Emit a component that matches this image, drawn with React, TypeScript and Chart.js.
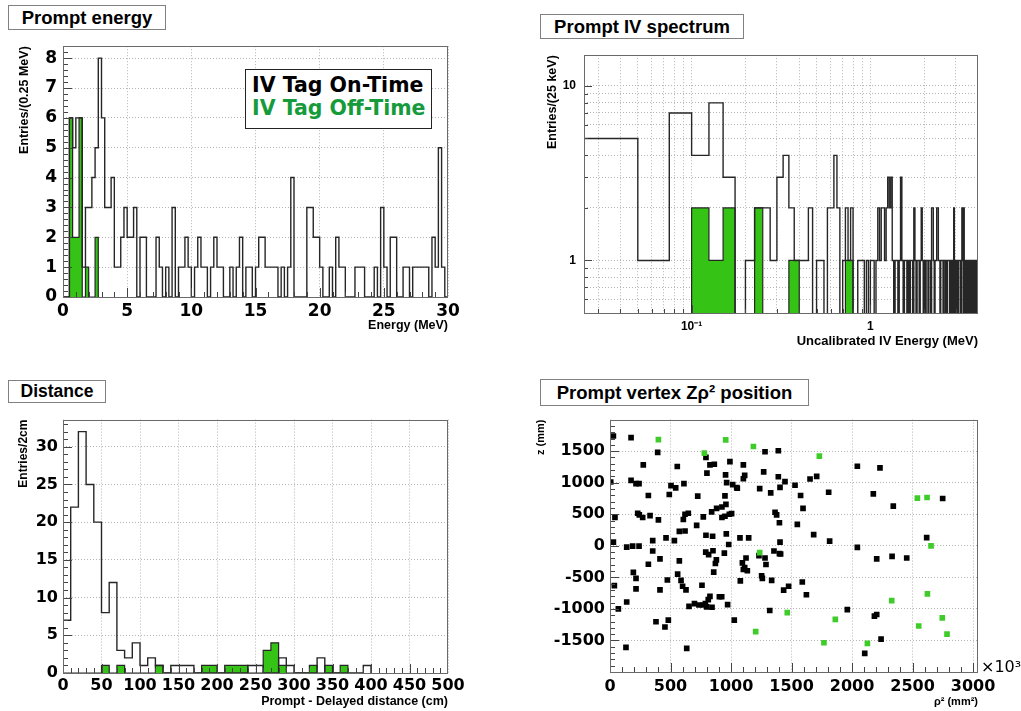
import React, { useEffect, useRef } from 'react';
import { Chart, registerables } from 'chart.js';

Chart.register(...registerables);

// ---------------- DATA ----------------
// Prompt energy, 0.25 MeV bins from 0 to 30 MeV
const energyBinStart = 0;
const energyBinWidth = 0.25;
const energyOnTime = [
  0, 0, 6, 5, 6, 6, 1, 3, 3, 4,
  5, 8, 6, 3, 3, 4, 1, 1, 2, 3,
  2, 2, 3, 0, 2, 2, 0, 0, 0, 2,
  1, 0, 1, 0, 3, 0, 1, 1, 2, 1,
  0, 1, 2, 1, 1, 0, 1, 2, 1, 1,
  0, 0, 1, 0, 1, 2, 0, 1, 1, 0,
  1, 2, 2, 1, 1, 1, 1, 0, 1, 0,
  1, 4, 0, 0, 0, 0, 3, 3, 2, 2,
  1, 0, 0, 1, 0, 2, 1, 1, 0, 0,
  0, 1, 1, 1, 0, 0, 0, 1, 0, 3,
  1, 0, 2, 2, 0, 0, 1, 1, 0, 1,
  1, 1, 1, 1, 0, 2, 1, 5, 1, 0,
];
const energyOffTime = [0, 0, 6, 2, 2, 6, 0, 1, 0, 0, 2];

// Prompt IV spectrum, 25 keV bins starting at 0.025 MeV
const ivBinStart = 0.025;
const ivBinWidth = 0.025;
const ivOnTime = [
  5, 1, 7, 4, 8, 3, 0, 1, 2, 2,
  1, 3, 4, 2, 1, 1, 1, 2, 0, 1,
  1, 0, 2, 2, 4, 2, 0, 1, 2, 1,
  2, 0, 0, 1, 1, 1, 0, 1, 0, 1,
  1, 0, 1, 2, 1, 2, 2, 1, 2, 3,
  2, 3, 1, 0, 1, 1, 0, 1, 3, 1,
  0, 1, 1, 0, 1, 0, 1, 1, 0, 2,
  1, 0, 1, 1, 0, 1, 2, 1, 0, 1,
  0, 1, 1, 0, 1, 1, 0, 2, 2, 1,
  0, 1, 1, 2, 2, 1, 1, 0, 1, 1,
  1, 0, 1, 1, 0, 1, 0, 1, 1, 1,
  0, 1, 0, 1, 1, 0, 2, 1, 0, 1,
  1, 0, 1, 0, 1, 1, 1, 0, 1, 2,
  1, 0, 2, 1, 0, 1, 0, 1, 1, 0,
  1, 1, 0, 1, 0, 1, 1, 0, 1, 1,
  0, 1, 1, 0, 1, 1, 0, 1, 1,
];
const ivOffTime = [
  0, 0, 0, 2, 1, 2, 0, 0, 2, 0,
  0, 0, 0, 1, 1, 0, 0, 0, 0, 0,
  0, 0, 0, 0, 0, 0, 0, 0, 1, 1,
  1,
];

// Prompt - delayed distance, 10 cm bins
const distBinStart = 0;
const distBinWidth = 10;
const distOnTime = [
  7, 22, 32, 25, 20, 8, 12, 3, 2, 4,
  1, 2, 1, 0, 1, 1, 1, 0, 0, 0,
  0, 0, 0, 0, 1, 1, 0, 0, 2, 1,
  0, 0, 0, 2, 0, 0, 0, 0, 0, 1,
];
const distOffTime = [
  0, 0, 0, 0, 0, 1, 0, 1, 0, 0,
  0, 0, 1, 0, 0, 0, 0, 0, 1, 1,
  0, 1, 1, 1, 0, 0, 3, 4, 1, 0,
  0, 0, 1, 0, 1, 0, 1,
];

// Prompt vertex: rho^2 (x10^3 mm^2) and z (mm)
const vertexOnRho2 = [
  28, 174, 6, 394, 275, 174, 215, 240, 41, 28, 36, 69, 138, 132, 138, 187, 240, 193, 215, 215,
  229, 242, 270, 317, 331, 353, 353, 400, 317, 413, 413, 380, 454, 482, 474, 463, 490, 504, 543, 556,
  532, 573, 620, 559, 587, 600, 628, 606, 620, 647, 611, 573, 725, 716, 771, 793, 848, 840, 881,
  793, 826, 801, 862, 955, 991, 950, 958, 925, 986, 1005, 925, 950, 961, 981, 964, 1014, 1047, 972, 1027,
  791, 815, 851, 879, 871, 857, 760, 735, 788, 771, 799, 812, 826, 843, 904, 923, 698, 653, 634, 945,
  1074, 1094, 1102, 1113, 1124, 1135, 1077, 1102, 1113, 1102, 1052, 1146, 1281, 1391, 1270, 1237, 1328, 1391, 1364, 1377,
  1400, 1355, 1400, 1281, 1289, 1253, 1259, 1336, 1320, 1231,
  2044, 2231, 1446, 1405, 1529, 1653, 1708, 1807, 1575, 1595, 2176, 2341, 2749, 1548, 1683, 1815, 1405, 1410, 2044, 2204,
  2331, 2452, 2617, 1435, 1476, 1589, 1623, 1961, 2185, 2204, 2240, 2105,
];
const vertexOnZ = [
  1740, 1714, 1011, 1480, 1282, 1037, 985, 985, 448, 57, -630, -1000, -891, -1610, -21, -5, -5, -422, -516, -682,
  516, 490, 448, 797, 479, 83, -83, 412, -292, -208, -698, -1203, -1287, -1177, -542, 125, 813, 953, 917, 1256,
  83, 229, 234, -448, -547, -641, -698, 417, 500, 516, 985, -240, 787, 323, 458, 167, 151, 537, 594,
  1402, 1282, 1151, 1292, 1125, 1334, 792, 656, 615, 500, 510, 448, 469, 188, 21, 1000, 969, 922, -933, -1177,
  -99, -141, -78, -224, -281, -417, -625, -938, -917, -938, -969, -854, -802, -974, -807, -807, -917, -959, -1626, -115,
  125, -271, -375, -344, -193, -396, -557, 1282, 1115, 1063, 912, 125, 1490, 1506, 1172, 907, 839, 1094, 531, 490,
  365, -83, -125, -193, -297, -474, -516, -547, -1026, -156,
  1261, 1235, 1016, 927, 959, 1058, 1099, 849, 797, 594, 823, 630, 750, 339, 177, 73, 57, -130, -26, -208,
  -167, -193, 130, -703, -641, -573, -776, -1011, -1115, -1089, -1480, -1704,
];
const vertexOffRho2 = [400, 956, 780, 1185, 1237, 1204, 1730, 2540, 2620, 2653, 2623, 2328, 1465, 1862, 2746, 2551, 2785, 1768, 2127];
const vertexOffZ = [1683, 1678, 1469, 1573, -109, -1360, 1422, 755, 766, 0, -761, -870, -1058, -1167, -1141, -1271, -1401, -1537, -1547];

// tick labels / positions
const energyXTicks = [0, 5, 10, 15, 20, 25, 30];
const energyYTicks = [0, 1, 2, 3, 4, 5, 6, 7, 8];
const ivXTicks = [0.03, 0.04, 0.05, 0.06, 0.07, 0.08, 0.09, 0.1, 0.2, 0.3, 0.4, 0.5, 0.6, 0.7, 0.8, 0.9, 1, 2, 3];
const ivYTicks = [0.6, 0.7, 0.8, 0.9, 1, 2, 3, 4, 5, 6, 7, 8, 9, 10];
const ivXTickLabels: Record<string, string> = { '0.1': '10\u207B\u00B9', '1': '1' };
const ivYTickLabels: Record<string, string> = { '1': '1', '10': '10' };
const distXTicks = [0, 50, 100, 150, 200, 250, 300, 350, 400, 450, 500];
const distYTicks = [0, 5, 10, 15, 20, 25, 30];
const vertexXTicks = [0, 500, 1000, 1500, 2000, 2500, 3000];
const vertexYTicks = [-1500, -1000, -500, 0, 500, 1000, 1500];

// ---------------- STYLE ----------------
const GREEN_FILL = '#35c316';
const GREEN_POINT = '#3fcc2a';
const GREEN_TEXT = '#169b3c';
const LINE = '#262626';
const TICK_FONT = "'DejaVu Sans', sans-serif";
const LABEL_FONT = "'Liberation Sans', Arial, sans-serif";
const GRID_COLOR = '#b5b5b5';

type Geo = { cx: number; cy: number; cw: number; ch: number; l: number; t: number; r: number; b: number };

function seq(a: number, b: number, step: number) {
  const out: number[] = [];
  for (let v = a; v <= b + step * 1e-6; v += step) out.push(Math.round(v * 1e6) / 1e6);
  return out;
}

function stepPoints(values: number[], start: number, width: number, floor: number) {
  const pts = [{ x: start, y: floor }];
  values.forEach((v, i) => pts.push({ x: start + i * width, y: v > 0 ? v : floor }));
  pts.push({ x: start + values.length * width, y: floor });
  return pts;
}

function makeFrame(spec: { xMajor: number[]; xMinor: number[]; yMajor: number[]; yMinor: number[]; majorLen: number; minorLen: number }) {
  return {
    id: 'frameTicks',
    afterDatasetsDraw(chart: any) {
      const { ctx, chartArea: a, scales } = chart;
      ctx.save();
      ctx.strokeStyle = '#444';
      ctx.lineWidth = 1;
      ctx.beginPath();
      const addX = (vals: number[], len: number) =>
        vals.forEach((v) => {
          const p = Math.round(scales.x.getPixelForValue(v)) + 0.5;
          if (p < a.left || p > a.right) return;
          ctx.moveTo(p, a.bottom);
          ctx.lineTo(p, a.bottom - len);
        });
      const addY = (vals: number[], len: number) =>
        vals.forEach((v) => {
          const p = Math.round(scales.y.getPixelForValue(v)) + 0.5;
          if (p < a.top || p > a.bottom) return;
          ctx.moveTo(a.left, p);
          ctx.lineTo(a.left + len, p);
        });
      addX(spec.xMajor, spec.majorLen);
      addX(spec.xMinor, spec.minorLen);
      addY(spec.yMajor, spec.majorLen);
      addY(spec.yMinor, spec.minorLen);
      ctx.stroke();
      ctx.strokeStyle = '#6a6a6a';
      ctx.strokeRect(Math.round(a.left) + 0.5, Math.round(a.top) + 0.5, Math.round(a.right - a.left) - 1, Math.round(a.bottom - a.top));
      ctx.restore();
    },
  };
}

function baseOptions(g: Geo, x: any, y: any) {
  return {
    responsive: false,
    animation: false,
    events: [],
    layout: { padding: { left: 0, top: g.t - g.cy, right: g.cx + g.cw - g.r, bottom: 0 } },
    plugins: { legend: { display: false }, tooltip: { enabled: false }, title: { display: false } },
    scales: {
      x: {
        ...x,
        afterFit: (s: any) => {
          s.height = g.cy + g.ch - g.b;
        },
      },
      y: {
        ...y,
        afterFit: (s: any) => {
          s.width = g.l - g.cx;
        },
      },
    },
  };
}

function axis(fontSize: number, family: string, padding: number, tickValues: number[], label: (v: number) => string) {
  return {
    grid: { color: GRID_COLOR, lineWidth: 1, drawTicks: false },
    border: { display: false, dash: [1, 2] },
    afterBuildTicks: (s: any) => {
      s.ticks = tickValues.map((v) => ({ value: v }));
    },
    ticks: {
      autoSkip: false,
      maxRotation: 0,
      minRotation: 0,
      padding,
      color: '#000',
      font: { family, size: fontSize, weight: 'bold' },
      callback: (v: number) => label(v),
    },
  };
}

function axisTitle(text: string, size: number, pad: any) {
  return {
    display: true,
    text,
    align: 'end',
    color: '#000',
    font: { family: LABEL_FONT, size, weight: 'bold' },
    padding: pad,
  };
}

function histDatasets(on: number[], off: number[], start: number, width: number, floor: number) {
  return [
    {
      data: stepPoints(on, start, width, floor),
      stepped: true,
      borderColor: LINE,
      borderWidth: 1.4,
      pointRadius: 0,
      fill: false,
      order: 0,
    },
    {
      data: stepPoints(off, start, width, floor),
      stepped: true,
      borderColor: LINE,
      borderWidth: 1.2,
      backgroundColor: GREEN_FILL,
      pointRadius: 0,
      fill: 'start',
      order: 1,
    },
  ];
}

const plain = (v: number) => String(v);

// ---------------- PANELS ----------------
const geoEnergy: Geo = { cx: 0, cy: 30, cw: 500, ch: 312, l: 63, t: 43, r: 448, b: 297 };
const geoIV: Geo = { cx: 520, cy: 40, cw: 501, ch: 312, l: 584, t: 46, r: 978, b: 313 };
const geoDist: Geo = { cx: 0, cy: 405, cw: 500, ch: 306, l: 63, t: 419, r: 448, b: 673 };
const geoVertex: Geo = { cx: 520, cy: 405, cw: 501, ch: 306, l: 610, t: 418, r: 978, b: 672 };

function buildEnergy() {
  return {
    type: 'line',
    data: { datasets: histDatasets(energyOnTime, energyOffTime, energyBinStart, energyBinWidth, 0) },
    options: baseOptions(
      geoEnergy,
      { type: 'linear', min: 0, max: 30, ...axis(17, TICK_FONT, 4, energyXTicks, plain), title: axisTitle('Energy (MeV)', 12.5, { top: 0, bottom: 9 }) },
      { type: 'linear', min: 0, max: 8.4, ...axis(17, TICK_FONT, 6, energyYTicks, plain), title: axisTitle('Entries/(0.25 MeV)', 12.5, { top: 17, bottom: 0 }) }
    ),
    plugins: [makeFrame({ xMajor: energyXTicks, xMinor: seq(0, 30, 1), yMajor: energyYTicks, yMinor: seq(0, 8.4, 0.2), majorLen: 9, minorLen: 5 })],
  };
}

function buildIV() {
  return {
    type: 'line',
    data: { datasets: histDatasets(ivOnTime, ivOffTime, ivBinStart, ivBinWidth, 0.001) },
    options: baseOptions(
      geoIV,
      {
        type: 'logarithmic',
        min: 0.025,
        max: 4,
        ...axis(12, LABEL_FONT, 6, ivXTicks, (v) => ivXTickLabels[String(v)] ?? ''),
        title: axisTitle('Uncalibrated IV Energy (MeV)', 13, { top: 0, bottom: 3 }),
      },
      {
        type: 'logarithmic',
        min: 0.5,
        max: 15,
        ...axis(12, LABEL_FONT, 8, ivYTicks, (v) => ivYTickLabels[String(v)] ?? ''),
        title: axisTitle('Entries/(25 keV)', 12.5, { top: 25, bottom: 0 }),
      }
    ),
    plugins: [makeFrame({ xMajor: [0.1, 1], xMinor: ivXTicks, yMajor: [1, 10], yMinor: ivYTicks, majorLen: 8, minorLen: 4 })],
  };
}

function buildDist() {
  return {
    type: 'line',
    data: { datasets: histDatasets(distOnTime, distOffTime, distBinStart, distBinWidth, 0) },
    options: baseOptions(
      geoDist,
      { type: 'linear', min: 0, max: 500, ...axis(16, TICK_FONT, 3, distXTicks, plain), title: axisTitle('Prompt - Delayed distance (cm)', 12.5, { top: 0, bottom: 2 }) },
      { type: 'linear', min: 0, max: 33.6, ...axis(16, TICK_FONT, 5, distYTicks, plain), title: axisTitle('Entries/2cm', 12, { top: 16, bottom: 0 }) }
    ),
    plugins: [makeFrame({ xMajor: distXTicks, xMinor: seq(0, 500, 10), yMajor: distYTicks, yMinor: seq(0, 33, 1), majorLen: 9, minorLen: 5 })],
  };
}

function buildVertex() {
  return {
    type: 'scatter',
    data: {
      datasets: [
        {
          data: vertexOnRho2.map((x, i) => ({ x, y: vertexOnZ[i] })),
          pointStyle: 'rect',
          pointRadius: 4,
          borderWidth: 0,
          backgroundColor: '#000',
          order: 1,
        },
        {
          data: vertexOffRho2.map((x, i) => ({ x, y: vertexOffZ[i] })),
          pointStyle: 'rect',
          pointRadius: 4,
          borderWidth: 0,
          backgroundColor: GREEN_POINT,
          order: 0,
        },
      ],
    },
    options: baseOptions(
      geoVertex,
      { type: 'linear', min: 0, max: 3041, ...axis(16, TICK_FONT, 5, vertexXTicks, plain), title: axisTitle('\u03C1\u00B2 (mm\u00B2)', 11, { top: 0, bottom: 2 }) },
      { type: 'linear', min: -2000, max: 2000, ...axis(16, TICK_FONT, 5, vertexYTicks, plain), title: axisTitle('z (mm)', 11, { top: 14, bottom: 0 }) }
    ),
    plugins: [makeFrame({ xMajor: vertexXTicks, xMinor: seq(0, 3000, 100), yMajor: vertexYTicks, yMinor: seq(-2000, 2000, 100), majorLen: 9, minorLen: 5 })],
  };
}

function ChartBox({ geo, build }: { geo: Geo; build: () => any }) {
  const ref = useRef<HTMLCanvasElement>(null);
  useEffect(() => {
    const chart = new Chart(ref.current as HTMLCanvasElement, build());
    return () => chart.destroy();
  }, []);
  return (
    <canvas
      ref={ref}
      width={geo.cw}
      height={geo.ch}
      style={{ position: 'absolute', left: geo.cx, top: geo.cy, width: geo.cw, height: geo.ch }}
    />
  );
}

function TitleBox({ text, left, top, width, height, size }: { text: string; left: number; top: number; width: number; height: number; size: number }) {
  return (
    <div
      style={{
        position: 'absolute',
        left,
        top,
        width,
        height,
        boxSizing: 'border-box',
        border: '1px solid #808080',
        background: '#fff',
        font: `bold ${size}px ${LABEL_FONT}`,
        lineHeight: `${height - 2}px`,
        textAlign: 'center',
        color: '#000',
        whiteSpace: 'nowrap',
      }}
    >
      {text}
    </div>
  );
}

export default function App() {
  return (
    <div style={{ position: 'fixed', left: 0, top: 0, width: 1021, height: 711, background: '#fff', overflow: 'hidden' }}>
      <ChartBox geo={geoEnergy} build={buildEnergy} />
      <ChartBox geo={geoIV} build={buildIV} />
      <ChartBox geo={geoDist} build={buildDist} />
      <ChartBox geo={geoVertex} build={buildVertex} />

      <TitleBox text="Prompt energy" left={8} top={5} width={158} height={25} size={18.5} />
      <TitleBox text="Prompt IV spectrum" left={540} top={14} width={204} height={25} size={18.5} />
      <TitleBox text="Distance" left={8} top={380} width={98} height={23} size={17.5} />
      <TitleBox text={'Prompt vertex Z\u03C1\u00B2 position'} left={540} top={379} width={269} height={27} size={18.5} />

      <div
        style={{
          position: 'absolute',
          left: 245,
          top: 69,
          width: 187,
          height: 60,
          boxSizing: 'border-box',
          border: '1.5px solid #222',
          background: '#fff',
        }}
      >
        <div style={{ position: 'absolute', left: 6, top: 3, font: `bold 20.5px 'DejaVu Sans', sans-serif`, color: '#000', whiteSpace: 'nowrap' }}>
          IV Tag On-Time
        </div>
        <div style={{ position: 'absolute', left: 6, top: 26, font: `bold 20.5px 'DejaVu Sans', sans-serif`, color: GREEN_TEXT, whiteSpace: 'nowrap' }}>
          IV Tag Off-Time
        </div>
      </div>

      <div style={{ position: 'absolute', left: 981, top: 657, font: `16px 'DejaVu Sans', sans-serif`, color: '#000', whiteSpace: 'nowrap' }}>
        {'\u00D710\u00B3'}
      </div>
    </div>
  );
}
